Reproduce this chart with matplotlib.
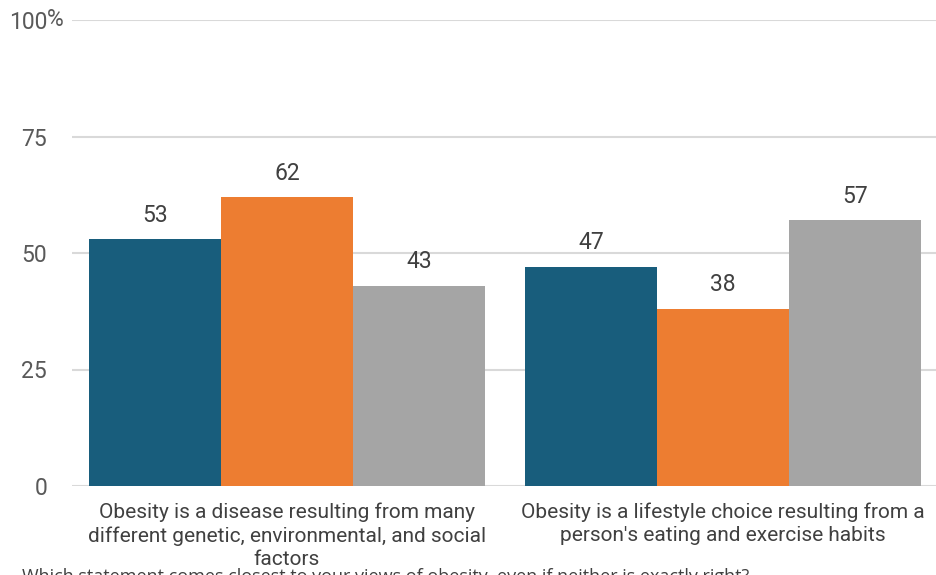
import numpy as np
import matplotlib.pyplot as plt

categories = [
    "Obesity is a disease resulting from many\ndifferent genetic, environmental, and social\nfactors",
    "Obesity is a lifestyle choice resulting from a\nperson's eating and exercise habits",
]
series_a = [53, 47]
series_b = [62, 38]
series_c = [43, 57]
colors = ["#185d7c", "#ed7d31", "#a5a5a5"]
yticks = [0, 25, 50, 75, 100]
ytick_labels = ["0", "25", "50", "75", "100"]
title = "Which statement comes closest to your views of obesity, even if neither is exactly right?"

plt.rcParams["font.family"] = ["Roboto", "DejaVu Sans"]

fig = plt.figure(figsize=(9.37, 5.75), dpi=100)
ax = fig.add_axes([72 / 937, 1 - 486 / 575, 865 / 937, 466 / 575])

x = np.arange(len(categories))
w = 132 / 436
for i, (vals, c) in enumerate(zip([series_a, series_b, series_c], colors)):
    bars = ax.bar(x + (i - 1) * w, vals, width=w, color=c, zorder=3)
    for b, v in zip(bars, vals):
        ax.annotate(str(v), (b.get_x() + b.get_width() / 2, v),
                    xytext=(0, 9), textcoords="offset points",
                    ha="center", va="bottom", fontsize=16.5, color="#404040")

ax.set_xlim(-0.493, 1.491)
ax.set_ylim(0, 100)
ax.set_yticks(yticks)
ax.set_yticklabels(ytick_labels, fontsize=16.5, color="#595959")
ax.text(-0.0289, 100, "%", transform=ax.get_yaxis_transform(), fontsize=16.5,
        color="#595959", ha="left", va="center")
ax.tick_params(axis="y", length=0, pad=18)
ax.set_xticks(x)
ax.set_xticklabels(categories, fontsize=15, color="#404040", linespacing=1.28)
ax.tick_params(axis="x", length=0, pad=12)
ax.grid(axis="y", color="#d9d9d9", linewidth=1.5, zorder=0)
for s in ax.spines.values():
    s.set_visible(False)

fig.text(22 / 937, 1 - 568 / 575, title, fontsize=13, color="#404040",
         family=["Open Sans", "DejaVu Sans"], ha="left", va="top")

fig.savefig("out.png", dpi=100)
